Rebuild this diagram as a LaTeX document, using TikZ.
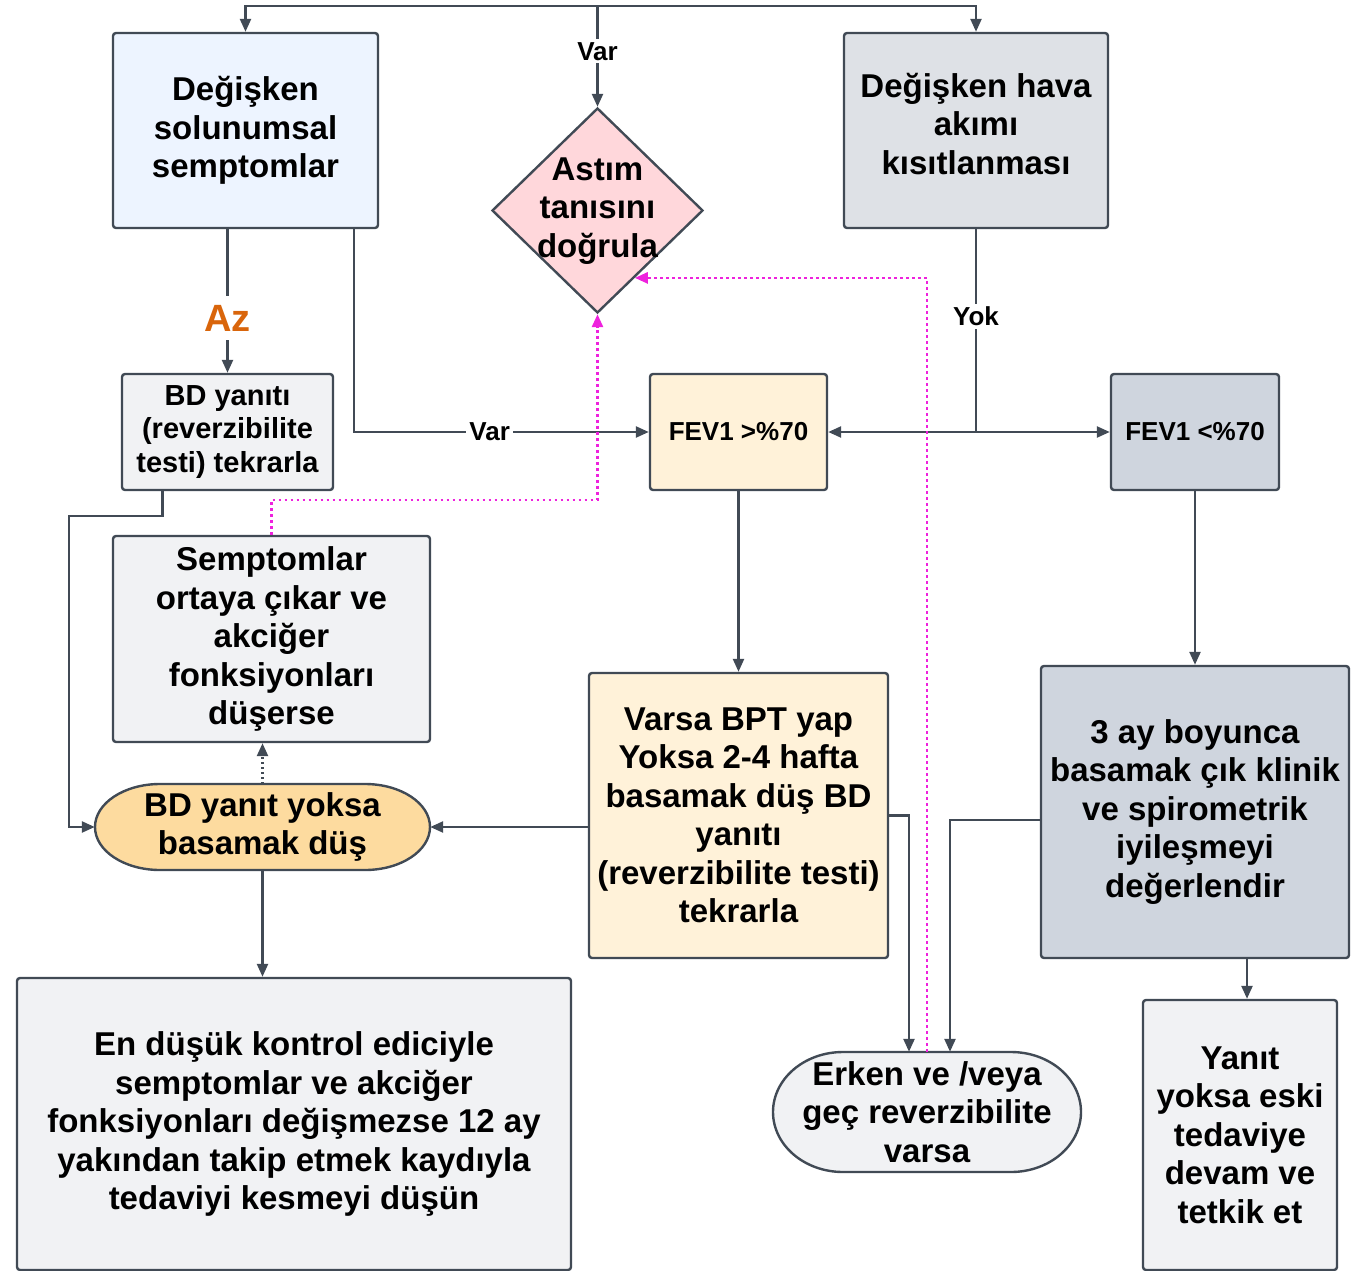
\documentclass[tikz,border=0pt]{standalone}
\usepackage{fontspec}
\setmainfont{Liberation Sans}
\usetikzlibrary{shapes.geometric,arrows.meta,calc}

\definecolor{ln}{HTML}{414A55}
\definecolor{mag}{HTML}{EE22DD}
\definecolor{azc}{HTML}{D9650B}
\definecolor{bluefill}{HTML}{EDF4FF}
\definecolor{grayfill}{HTML}{DEE1E6}
\definecolor{pinkfill}{HTML}{FFD7DB}
\definecolor{lightfill}{HTML}{F1F2F4}
\definecolor{creamfill}{HTML}{FFF2D9}
\definecolor{slatefill}{HTML}{CFD5DE}
\definecolor{orangefill}{HTML}{FDDB9F}

\tikzset{
  box/.style={rectangle,draw=ln,line width=2.4pt,rounded corners=3pt,align=center,inner sep=0pt,
    font={\fontsize{33}{38.5}\selectfont\bfseries}},
  txt/.style={align=center,inner sep=0pt,font={\fontsize{33}{38.5}\selectfont\bfseries}},
  pill/.style={draw=ln,line width=2.4pt},
  lbl/.style={fill=white,inner sep=3pt,font={\fontsize{26}{28}\selectfont\bfseries}},
  azlbl/.style={fill=white,inner sep=9pt,text=azc,font={\fontsize{38}{40}\selectfont\bfseries}},
  conn/.style={draw=ln,line width=2.4pt},
  arr/.style={conn,-{Triangle[length=13pt,width=11pt]}},
  dotarr/.style={arr,dash pattern=on 2pt off 3pt},
  magarr/.style={draw=mag,line width=2.7pt,dash pattern=on 2.7pt off 3.3pt,-{Triangle[length=13pt,width=11pt]}}
}

\begin{document}
\begin{tikzpicture}[x=1pt,y=-1pt]
  \useasboundingbox (0,0) rectangle (1366,1271);

  % rounded end shapes
  \filldraw[pill,fill=orangefill] (160,784) -- (365,784)
    arc[start angle=-90,end angle=90,x radius=65,y radius=43] -- (160,870)
    arc[start angle=90,end angle=270,x radius=65,y radius=43] -- cycle;
  \filldraw[pill,fill=lightfill] (843,1052) -- (1011,1052)
    arc[start angle=-90,end angle=90,x radius=70,y radius=60] -- (843,1172)
    arc[start angle=90,end angle=270,x radius=70,y radius=60] -- cycle;

  \begin{scope}[every node/.style={box}]
    \node[fill=bluefill,minimum width=265,minimum height=195] (1) at (245.5,130.5) {Değişken\\solunumsal\\semptomlar};
    \node[fill=grayfill,minimum width=264,minimum height=195] (2) at (976,130.5) {Değişken hava\\akımı\\kısıtlanması\rule[-14pt]{0pt}{1pt}};
    \node[diamond,rounded corners=0pt,fill=pinkfill,minimum width=211,minimum height=205] (3) at (597.5,210.5) {};
    \node[fill=lightfill,minimum width=211,minimum height=116,font={\fontsize{29}{33.5}\selectfont\bfseries}] (4) at (227.5,432) {BD yanıtı\\(reverzibilite\\testi) tekrarla};
    \node[fill=creamfill,minimum width=177,minimum height=116,font={\fontsize{26}{30}\selectfont\bfseries}] (5) at (738.5,432) {FEV1 >\%70};
    \node[fill=slatefill,minimum width=168,minimum height=116,font={\fontsize{26}{30}\selectfont\bfseries}] (6) at (1195,432) {FEV1 <\%70};
    \node[fill=lightfill,minimum width=317,minimum height=206] (7) at (271.5,639) {Semptomlar\\ortaya çıkar ve\\akciğer\\fonksiyonları\\düşerse};
    \node[fill=creamfill,minimum width=299,minimum height=285] (9) at (738.5,815.5) {Varsa BPT yap\\Yoksa 2-4 hafta\\basamak düş BD\\yanıtı\\(reverzibilite testi)\\tekrarla};
    \node[fill=slatefill,minimum width=308,minimum height=292] (10) at (1195,812) {3 ay boyunca\\basamak çık klinik\\ve spirometrik\\iyileşmeyi\\değerlendir};
    \node[fill=lightfill,minimum width=554,minimum height=292] (11) at (294,1124) {En düşük kontrol ediciyle\\semptomlar ve akciğer\\fonksiyonları değişmezse 12 ay\\yakından takip etmek kaydıyla\\tedaviyi kesmeyi düşün};
    \node[fill=lightfill,minimum width=194,minimum height=270] (13) at (1240,1135) {Yanıt\\yoksa eski\\tedaviye\\devam ve\\tetkik et};
  \end{scope}

  \begin{scope}[every node/.style={txt}]
    \node (3t) at (597.5,211) {Astım\\tanısını\\doğrula};
    \node[minimum width=335,minimum height=86] (8) at (262.5,827) {BD yanıt yoksa\\basamak düş};
    \node[minimum width=308,minimum height=120] (12) at (927,1112) {Erken ve /veya\\geç reverzibilite\\varsa};
  \end{scope}

  % connectors
  \coordinate (top) at (597.5,6);
  \coordinate (j) at (2.south |- 5.east);
  \coordinate (k) at (69,516);
  \coordinate (m1) at (597.5,500);

  \draw[arr] (top) -| (1.north);
  \draw[arr] (top) -| (2.north);
  \draw[arr] (top) -- node[lbl,pos=0.45] (var1) {Var} (3.north);
  \draw[arr] (4.north |- 1.south) -- node[azlbl,pos=0.62] (az) {Az} (4.north);
  \draw[arr] ($(1.south east)+(-25,0)$) |- node[lbl,pos=0.73] (var2) {Var} (5.west);
  \draw[conn] (2.south) -- node[lbl,pos=0.43] (yok) {Yok} (j);
  \draw[arr] (j) -- (5.east);
  \draw[arr] (j) -- (6.west);
  \draw[arr] (5.south) -- (9.north);
  \draw[arr] (6.south) -- (10.north);
  \draw[arr] ($(10.south)+(52,0)$) -- ($(13.north)+(7,0)$);
  \draw[arr] ($(4.south)+(-65,0)$) |- (k) |- (8.west);
  \draw[arr] (9.west |- 8.east) -- (8.east);
  \draw[arr] (8.south) -- (8.south |- 11.north);
  \draw[dotarr] (8.north) -- (8.north |- 7.south);
  \draw[arr] (9.east) -| ($(12.north)+(-18,0)$);
  \draw[arr] ($(10.west)+(0,8)$) -| ($(12.north)+(23,0)$);
  \draw[magarr] (7.north) |- (m1) -- (3.south);
  \draw[magarr] (12.north) |- ($(3.east)!0.65!(3.south)$);

\end{tikzpicture}
\end{document}
